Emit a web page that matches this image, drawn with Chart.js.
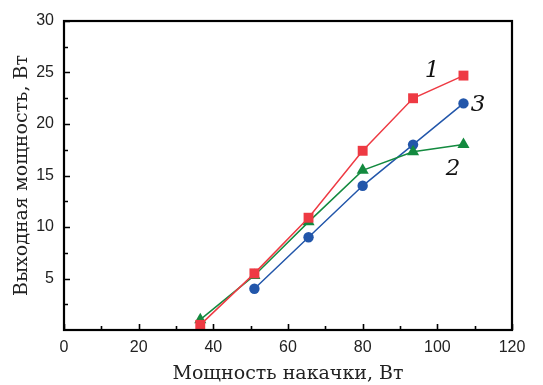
<!DOCTYPE html>
<html>
<head>
<meta charset="utf-8">
<script src="https://cdn.jsdelivr.net/npm/chart.js@4.4.1/dist/chart.umd.min.js"></script>
<style>
html,body{margin:0;padding:0;background:#fff;}
#wrap{width:543px;height:385px;position:relative;}
</style>
</head>
<body>
<div id="wrap"><canvas id="c" width="543" height="385"></canvas></div>
<script>
// Data
const pumpX = [36.5, 51, 65.5, 80, 93.5, 107];
const series1 = [0.5, 5.5, 10.9, 17.4, 22.5, 24.7];   // red squares, curve 1
const series2 = [1.0, 5.3, 10.5, 15.5, 17.3, 18.0];   // green triangles, curve 2
const pumpX3 = [51, 65.5, 80, 93.5, 107];
const series3 = [4.0, 9.0, 14.0, 18.0, 22.0];         // blue circles, curve 3
const curveLabels = [
  {text: '1', x: 98.6, y: 25.1},
  {text: '2', x: 104.2, y: 15.6},
  {text: '3', x: 110.9, y: 21.8}
];
const xMajor = [0, 20, 40, 60, 80, 100, 120];
const xMinor = [10, 30, 50, 70, 90, 110];
const yMajor = [5, 10, 15, 20, 25, 30];
const yMinor = [2.5, 7.5, 12.5, 17.5, 22.5, 27.5];

const RED = '#ee3a43', GREEN = '#138a3f', BLUE = '#2256aa';
const tickFont = {family: "'Liberation Sans Narrow','Liberation Sans',Arial,sans-serif", size: 16};
const titleFont = {family: "'DejaVu Serif','Liberation Serif',serif", size: 19};

const pts = (xs, ys) => xs.map((x, i) => ({x: x, y: ys[i]}));

const frame = {
  id: 'frame',
  afterDatasetsDraw(chart) {
    const ctx = chart.ctx, a = chart.chartArea;
    const xs = chart.scales.x, ys = chart.scales.y;
    ctx.save();
    ctx.strokeStyle = '#000';
    ctx.lineWidth = 1.6;
    ctx.beginPath();
    xMajor.forEach(v => { const p = Math.round(xs.getPixelForValue(v)) + 0.5; ctx.moveTo(p, a.bottom); ctx.lineTo(p, a.bottom - 6); });
    xMinor.forEach(v => { const p = Math.round(xs.getPixelForValue(v)) + 0.5; ctx.moveTo(p, a.bottom); ctx.lineTo(p, a.bottom - 4); });
    yMajor.forEach(v => { const p = Math.round(ys.getPixelForValue(v)) + 0.5; ctx.moveTo(a.left, p); ctx.lineTo(a.left + 6, p); });
    yMinor.forEach(v => { const p = Math.round(ys.getPixelForValue(v)) + 0.5; ctx.moveTo(a.left, p); ctx.lineTo(a.left + 4, p); });
    ctx.stroke();
    ctx.lineWidth = 2.2;
    ctx.strokeRect(a.left, a.top, a.right - a.left, a.bottom - a.top);
    // curve labels
    ctx.fillStyle = '#111';
    ctx.font = "italic 23px 'DejaVu Serif','Liberation Serif',serif";
    ctx.textAlign = 'center';
    ctx.textBaseline = 'middle';
    curveLabels.forEach(l => ctx.fillText(l.text, xs.getPixelForValue(l.x), ys.getPixelForValue(l.y)));
    ctx.restore();
  }
};

new Chart(document.getElementById('c'), {
  type: 'line',
  data: {
    datasets: [
      {label: '1', data: pts(pumpX, series1), borderColor: RED, backgroundColor: RED, pointStyle: 'rect', pointRadius: 7, pointBorderWidth: 0, borderWidth: 1.5, tension: 0},
      {label: '2', data: pts(pumpX, series2), borderColor: GREEN, backgroundColor: GREEN, pointStyle: 'triangle', pointRadius: 7, pointBorderWidth: 0, borderWidth: 1.5, tension: 0},
      {label: '3', data: pts(pumpX3, series3), borderColor: BLUE, backgroundColor: BLUE, pointStyle: 'circle', pointRadius: 5.2, pointBorderWidth: 0, borderWidth: 1.5, tension: 0}
    ]
  },
  options: {
    responsive: false,
    animation: false,
    devicePixelRatio: 1,
    layout: {padding: {left: 0, right: 31, top: 21, bottom: 0}},
    plugins: {legend: {display: false}, tooltip: {enabled: false}},
    scales: {
      x: {
        type: 'linear', min: 0, max: 120,
        border: {display: false},
        grid: {display: false, drawTicks: false},
        ticks: {stepSize: 20, color: '#222', font: tickFont, padding: 8, maxRotation: 0, autoSkip: false},
        title: {display: true, text: 'Мощность накачки, Вт', color: '#222', font: titleFont, padding: {top: 2, bottom: 0}},
        afterFit(s) { s.height = 55; }
      },
      y: {
        type: 'linear', min: 0, max: 30,
        border: {display: false},
        grid: {display: false, drawTicks: false},
        ticks: {stepSize: 5, color: '#222', font: tickFont, padding: 10,
          callback: v => v === 0 ? '' : v},
        title: {display: true, text: 'Выходная мощность, Вт', color: '#222', font: titleFont, padding: {top: 11, bottom: 0}},
        afterFit(s) { s.width = 64; }
      }
    }
  },
  plugins: [frame]
});
</script>
</body>
</html>
